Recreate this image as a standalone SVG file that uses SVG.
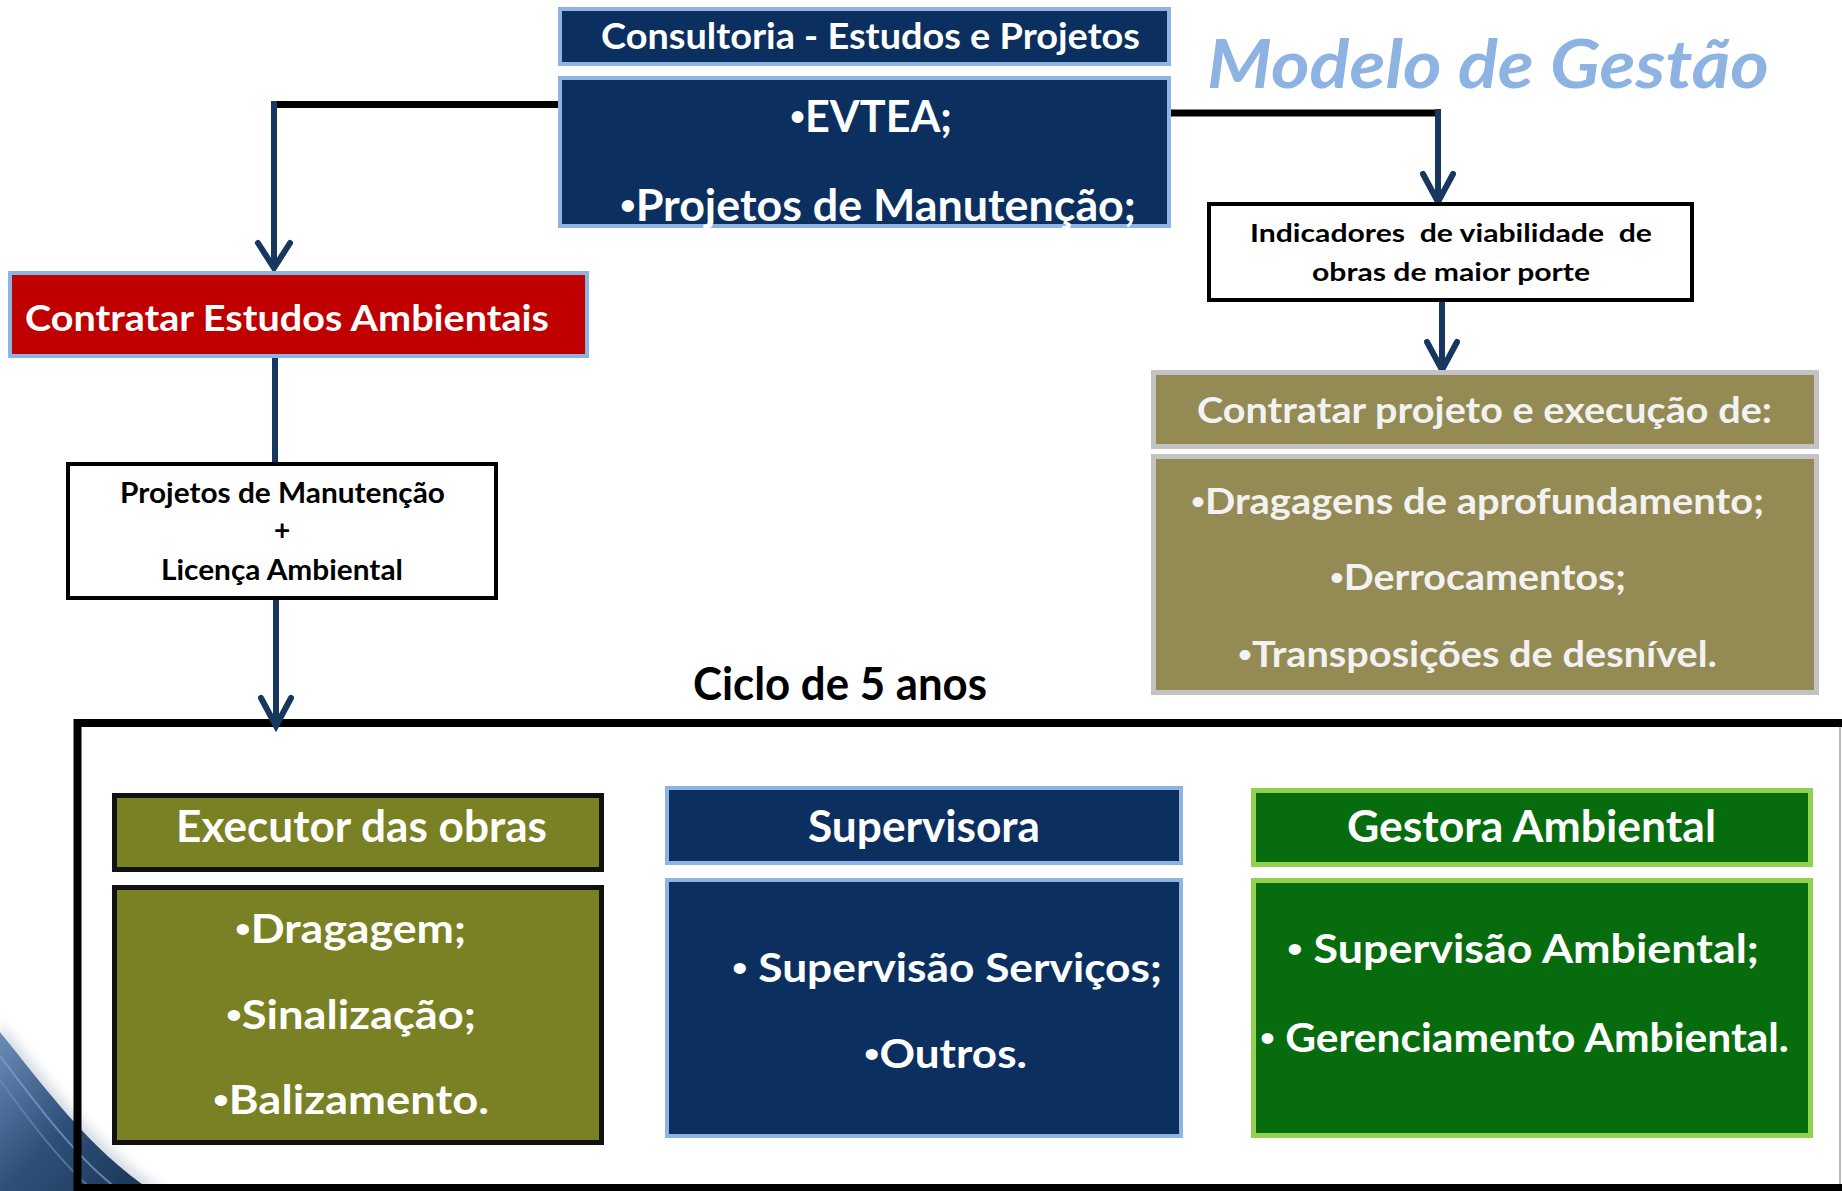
<svg xmlns="http://www.w3.org/2000/svg" width="1842" height="1191" viewBox="0 0 1842 1191">
<defs>
<style>
text{font-family:Lato,"Liberation Sans","Open Sans",sans-serif;font-weight:bold}
.b{font-family:"Liberation Sans",Arial,sans-serif;font-weight:normal}
.w{fill:#ffffff}
.k{fill:#000000}
.kh{fill:#F2F2F2}
.navy{fill:#0B3060;stroke:#8DB4E2;stroke-width:4}
.red{fill:#C00000;stroke:#8DB4E2;stroke-width:4}
.khaki{fill:#948A54;stroke:#C3C3C3;stroke-width:5}
.olive{fill:#7A8024;stroke:#111111;stroke-width:5}
.green{fill:#076C0E;stroke:#92D050;stroke-width:5}
.white{fill:#ffffff;stroke:#000000;stroke-width:4}
.blk{stroke:#000000;stroke-width:7;fill:none}
.blu{stroke:#17375E;stroke-width:6;fill:none}
.head{stroke:#17375E;stroke-width:6;fill:none;stroke-linecap:round;stroke-linejoin:miter}
</style>
<linearGradient id="sw" x1="0" y1="0" x2="1" y2="1">
<stop offset="0" stop-color="#6C8DB8"/>
<stop offset="0.5" stop-color="#2E5079"/>
<stop offset="1" stop-color="#1A3557"/>
</linearGradient>
<filter id="glow" x="-50%" y="-50%" width="200%" height="200%"><feGaussianBlur stdDeviation="6"/></filter>
</defs>
<rect width="1842" height="1191" fill="#ffffff"/>

<g id="decor">
<path d="M0,1022 C45,1076 95,1146 165,1191 L0,1191 Z" fill="#8a9bb0" opacity="0.35" filter="url(#glow)"/>
<path d="M0,1032 C42,1084 90,1150 152,1191 L0,1191 Z" fill="url(#sw)"/>
<path d="M0,1056 C38,1106 78,1160 120,1191" stroke="#7EA0CB" stroke-width="2" fill="none" opacity="0.7"/>
<path d="M0,1080 C32,1124 62,1164 94,1191" stroke="#6D8FBA" stroke-width="2" fill="none" opacity="0.6"/>
</g>

<g id="container">
<path d="M1850,723 L77.5,723 L77.5,1188 L1850,1188" fill="none" stroke="#000000" stroke-width="8"/>
<line x1="1840" y1="727" x2="1840" y2="1184" stroke="#BBBBBB" stroke-width="2"/>
</g>

<g id="connectors">
<line class="blk" x1="277" y1="104.5" x2="560" y2="104.5"/>
<line class="blu" x1="274" y1="101" x2="274" y2="266"/>
<polyline class="head" points="258,243 274,268 290,243"/>
<line class="blk" x1="1169" y1="113" x2="1441" y2="113"/>
<line class="blu" x1="1438" y1="109" x2="1438" y2="200"/>
<polyline class="head" points="1423,174 1438,202 1453,174"/>
<line class="blu" x1="1442" y1="302" x2="1442" y2="368"/>
<polyline class="head" points="1427,342 1442,370 1457,342"/>
<line class="blu" x1="275" y1="358" x2="275" y2="462"/>
<line class="blu" x1="276" y1="600" x2="276" y2="724"/>
<polyline class="head" points="261,698 276,726 291,698"/>
</g>

<g id="title">
<text x="1207" y="88" font-size="67" font-style="italic" fill="#8DB3E2" textLength="562" lengthAdjust="spacingAndGlyphs">Modelo de Gestão</text>
</g>

<g id="consultoria-header">
<rect class="navy" x="560" y="9" width="609" height="55"/>
<text class="w" x="601" y="49" font-size="36" textLength="539" lengthAdjust="spacingAndGlyphs">Consultoria - Estudos e Projetos</text>
</g>

<g id="consultoria-body">
<rect class="navy" x="560" y="78" width="609" height="148"/>
<text class="w" x="790" y="132" font-size="44" textLength="162" lengthAdjust="spacingAndGlyphs"><tspan class="b">•</tspan>EVTEA;</text>
<text class="w" x="620" y="221" font-size="44" textLength="516" lengthAdjust="spacingAndGlyphs"><tspan class="b">•</tspan>Projetos de Manutenção;</text>
</g>

<g id="indicadores">
<rect class="white" x="1209" y="204" width="483" height="96"/>
<text class="k" x="1250" y="242" font-size="25" style="white-space:pre" textLength="402" lengthAdjust="spacingAndGlyphs">Indicadores  de viabilidade  de</text>
<text class="k" x="1312" y="281" font-size="25" textLength="278" lengthAdjust="spacingAndGlyphs">obras de maior porte</text>
</g>

<g id="contratar-projeto-header">
<rect class="khaki" x="1153.5" y="372.5" width="663" height="74"/>
<text class="kh" x="1197" y="423" font-size="37" textLength="575" lengthAdjust="spacingAndGlyphs">Contratar projeto e execução de:</text>
</g>

<g id="contratar-projeto-body">
<rect class="khaki" x="1153.5" y="456.5" width="663" height="236"/>
<text class="kh" x="1191" y="514" font-size="37" textLength="573" lengthAdjust="spacingAndGlyphs"><tspan class="b">•</tspan>Dragagens de aprofundamento;</text>
<text class="kh" x="1330" y="590" font-size="37" textLength="296" lengthAdjust="spacingAndGlyphs"><tspan class="b">•</tspan>Derrocamentos;</text>
<text class="kh" x="1238" y="667" font-size="37" textLength="479" lengthAdjust="spacingAndGlyphs"><tspan class="b">•</tspan>Transposições de desnível.</text>
</g>

<g id="estudos-ambientais">
<rect class="red" x="10" y="273" width="577" height="83"/>
<text class="w" x="25" y="331" font-size="36" textLength="524" lengthAdjust="spacingAndGlyphs">Contratar Estudos Ambientais</text>
</g>

<g id="projetos-licenca">
<rect class="white" x="68" y="464" width="428" height="134"/>
<text class="k" x="120" y="503" font-size="28" textLength="325" lengthAdjust="spacingAndGlyphs">Projetos de Manutenção</text>
<text class="k" x="282" y="540" font-size="28" text-anchor="middle">+</text>
<text class="k" x="161" y="580" font-size="28" textLength="242" lengthAdjust="spacingAndGlyphs">Licença Ambiental</text>
</g>

<g id="ciclo">
<text class="k" x="693" y="700" font-size="45" textLength="294" lengthAdjust="spacingAndGlyphs">Ciclo de 5 anos</text>
</g>

<g id="executor-header">
<rect class="olive" x="114.5" y="795.5" width="487" height="74"/>
<text class="w" x="176" y="842" font-size="44" textLength="371" lengthAdjust="spacingAndGlyphs">Executor das obras</text>
</g>
<g id="executor-body">
<rect class="olive" x="114.5" y="887.5" width="487" height="255"/>
<text class="w" x="235" y="943" font-size="40" textLength="231" lengthAdjust="spacingAndGlyphs"><tspan class="b">•</tspan>Dragagem;</text>
<text class="w" x="226" y="1029" font-size="40" textLength="250" lengthAdjust="spacingAndGlyphs"><tspan class="b">•</tspan>Sinalização;</text>
<text class="w" x="213" y="1114" font-size="40" textLength="276" lengthAdjust="spacingAndGlyphs"><tspan class="b">•</tspan>Balizamento.</text>
</g>

<g id="supervisora-header">
<rect class="navy" x="667" y="788" width="514" height="75"/>
<text class="w" x="808" y="842" font-size="44" textLength="232" lengthAdjust="spacingAndGlyphs">Supervisora</text>
</g>
<g id="supervisora-body">
<rect class="navy" x="667" y="880" width="514" height="256"/>
<text class="w" x="732" y="982" font-size="40" textLength="430" lengthAdjust="spacingAndGlyphs"><tspan class="b">•</tspan> Supervisão Serviços;</text>
<text class="w" x="864" y="1068" font-size="40" textLength="163" lengthAdjust="spacingAndGlyphs"><tspan class="b">•</tspan>Outros.</text>
</g>

<g id="gestora-header">
<rect class="green" x="1253.5" y="790.5" width="557" height="74"/>
<text class="w" x="1347" y="842" font-size="44" textLength="369" lengthAdjust="spacingAndGlyphs">Gestora Ambiental</text>
</g>
<g id="gestora-body">
<rect class="green" x="1253.5" y="880.5" width="557" height="255"/>
<text class="w" x="1287" y="963" font-size="40" textLength="472" lengthAdjust="spacingAndGlyphs"><tspan class="b">•</tspan> Supervisão Ambiental;</text>
<text class="w" x="1260" y="1052" font-size="40" textLength="529" lengthAdjust="spacingAndGlyphs"><tspan class="b">•</tspan> Gerenciamento Ambiental.</text>
</g>
</svg>
